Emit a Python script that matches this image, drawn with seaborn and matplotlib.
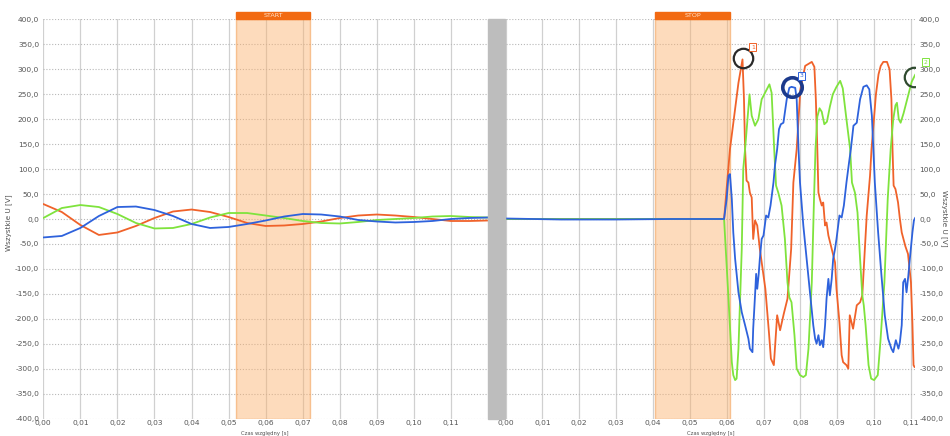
import numpy as np
import pandas as pd
import matplotlib
matplotlib.use("Agg")
import matplotlib.pyplot as plt
import matplotlib.transforms as mtransforms
from matplotlib.patches import Rectangle
from matplotlib.ticker import FuncFormatter, FixedLocator
import seaborn as sns

# ─────────────────────────────────────────────
# DATA
# ─────────────────────────────────────────────
# left panel: damped residual voltage after switch-off (START)
left_t = [0.000, 0.005, 0.010, 0.015, 0.020, 0.025, 0.030, 0.035, 0.040,
          0.045, 0.050, 0.055, 0.060, 0.065, 0.070, 0.075, 0.080, 0.085,
          0.090, 0.095, 0.100, 0.105, 0.110, 0.115, 0.120]
left_orange = [30, 14, -12, -32, -27, -14, 2, 15, 19, 14, 4, -8, -14, -13,
               -10, -5, 2, 7, 9, 7, 4, 0, -4, -4, -3]
left_green = [2, 22, 28, 24, 10, -8, -19, -18, -10, 3, 12, 12, 7, 2, -4,
              -8, -9, -6, -2, 0, 2, 5, 6, 4, 3]
left_blue = [-37, -34, -18, 6, 24, 25, 18, 6, -10, -18, -16, -10, -3, 5,
             10, 9, 5, -2, -5, -7, -6, -4, 0, 2, 3]

# right panel: voltage after restart (STOP)
right_orange = [
    (0.0, 0), (0.0593, 0), (0.0609, 140), (0.0632, 273), (0.0643, 320),
    (0.0647, 240), (0.0650, 140), (0.0654, 77), (0.0659, 73), (0.0663, 53),
    (0.0668, 43), (0.0672, -40), (0.0677, -3), (0.0683, -13), (0.0690, -60),
    (0.0705, -140), (0.0715, -230), (0.0720, -280), (0.0728, -293),
    (0.0737, -193), (0.0745, -223), (0.0755, -190), (0.0765, -160),
    (0.0775, -60), (0.0781, 73), (0.0790, 140), (0.0800, 260), (0.0813, 307),
    (0.0831, 315), (0.0838, 305), (0.0842, 240), (0.0846, 140), (0.0849, 53),
    (0.0853, 40), (0.0858, 27), (0.0862, 33), (0.0867, -13), (0.0871, -7),
    (0.0876, -33), (0.0885, -60), (0.0894, -87), (0.0898, -140),
    (0.0906, -207), (0.0912, -273), (0.0916, -287), (0.0925, -293),
    (0.0930, -300), (0.0934, -193), (0.0943, -220), (0.0953, -173),
    (0.0962, -167), (0.0968, -153), (0.0980, 7), (0.0989, 87), (0.0993, 140),
    (0.1005, 250), (0.1012, 290), (0.1018, 307), (0.1025, 315), (0.1035, 315),
    (0.1042, 300), (0.1047, 240), (0.1050, 140), (0.1053, 67), (0.1058, 60),
    (0.1065, 33), (0.1070, 0), (0.1075, -27), (0.1085, -55), (0.1092, -70),
    (0.1100, -127), (0.1104, -210), (0.1107, -293), (0.1110, -297),
]
right_green = [
    (0.0, 0), (0.0593, 0), (0.0605, -160), (0.0614, -287), (0.0618, -313),
    (0.0623, -323), (0.0627, -320), (0.0632, -260), (0.0641, -60),
    (0.0645, 100), (0.0650, 140), (0.0662, 250), (0.0668, 207), (0.0677, 187),
    (0.0686, 200), (0.0695, 240), (0.0700, 247), (0.0709, 260), (0.0716, 270),
    (0.0722, 253), (0.0729, 140), (0.0734, 67), (0.0740, 53), (0.0749, 27),
    (0.0758, -40), (0.0765, -127), (0.0770, -157), (0.0776, -167),
    (0.0784, -233), (0.0790, -300), (0.0799, -313), (0.0808, -317),
    (0.0815, -313), (0.0822, -260), (0.0831, -127), (0.0837, 40),
    (0.0841, 140), (0.0846, 205), (0.0852, 222), (0.0858, 215), (0.0865, 190),
    (0.0872, 195), (0.0880, 225), (0.0888, 250), (0.0898, 265), (0.0908, 277),
    (0.0915, 262), (0.0925, 200), (0.0935, 140), (0.0940, 73), (0.0948, 53),
    (0.0955, 13), (0.0962, -80), (0.0968, -153), (0.0972, -173),
    (0.0977, -213), (0.0985, -293), (0.0992, -320), (0.1000, -323),
    (0.1010, -313), (0.1017, -247), (0.1028, -127), (0.1037, 40),
    (0.1045, 140), (0.1052, 200), (0.1058, 228), (0.1062, 233), (0.1067, 200),
    (0.1072, 193), (0.1080, 212), (0.1088, 235), (0.1095, 255), (0.1102, 275),
    (0.1108, 284), (0.1112, 290),
]
right_blue = [
    (0.0, 1), (0.015, -1), (0.030, -1), (0.045, 0), (0.0593, 0),
    (0.0600, 40), (0.0605, 87), (0.0609, 90), (0.0614, 40), (0.0618, -27),
    (0.0623, -80), (0.0632, -147), (0.0641, -187), (0.0650, -213),
    (0.0659, -240), (0.0663, -260), (0.0670, -267), (0.0672, -220),
    (0.0677, -153), (0.0680, -110), (0.0683, -140), (0.0687, -110),
    (0.0690, -80), (0.0695, -40), (0.0700, -33), (0.0707, 7), (0.0713, 3),
    (0.0719, 27), (0.0727, 73), (0.0731, 107), (0.0737, 140), (0.0742, 180),
    (0.0747, 190), (0.0754, 193), (0.0763, 240), (0.0770, 263), (0.0776, 265),
    (0.0786, 263), (0.0790, 240), (0.0795, 140), (0.0799, 73), (0.0808, -13),
    (0.0817, -80), (0.0826, -147), (0.0835, -213), (0.0840, -240),
    (0.0844, -250), (0.0849, -233), (0.0853, -253), (0.0858, -243),
    (0.0862, -257), (0.0867, -213), (0.0871, -160), (0.0876, -120),
    (0.0880, -153), (0.0885, -120), (0.0889, -80), (0.0894, -60),
    (0.0898, -40), (0.0906, 7), (0.0912, 3), (0.0918, 27), (0.0925, 73),
    (0.0932, 113), (0.0937, 140), (0.0944, 187), (0.0953, 193), (0.0962, 240),
    (0.0971, 265), (0.0980, 268), (0.0987, 260), (0.0994, 207), (0.0998, 140),
    (0.1002, 73), (0.1011, -27), (0.1020, -113), (0.1029, -193),
    (0.1038, -240), (0.1047, -260), (0.1052, -267), (0.1059, -243),
    (0.1066, -260), (0.1070, -247), (0.1075, -213), (0.1079, -127),
    (0.1084, -120), (0.1088, -147), (0.1093, -113), (0.1097, -80),
    (0.1104, -27), (0.1108, -3), (0.1112, 3),
]

# cursor markers on the right panel
marker_t = [0.0643, 0.0776, 0.1107]
marker_u = [322, 265, 284]
marker_labels = ["1", "3", "2"]

# START / STOP windows
start_window = (0.052, 0.072)
stop_window = (0.0406, 0.0610)

x_ticks = [0.00, 0.01, 0.02, 0.03, 0.04, 0.05, 0.06, 0.07, 0.08, 0.09, 0.10, 0.11]
y_ticks = [-400, -350, -300, -250, -200, -150, -100, -50, 0,
           50, 100, 150, 200, 250, 300, 350, 400]

# ─────────────────────────────────────────────
# STYLE
# ─────────────────────────────────────────────
sns.set_style("white")
plt.rcParams['font.family'] = ['DejaVu Sans']

C_ORANGE = '#f0622a'
C_GREEN = '#7fe33d'
C_BLUE = '#2e62dc'
C_SPAN = '#fbb06c'
C_HEAD = '#f26a12'
FS = 5.4

fig = plt.figure(figsize=(9.5, 4.36), dpi=100)
W, H = 950, 436
BOT, HGT = 17.5, 399.0       # axes bottom (px from bottom) and height
ax_l = fig.add_axes([43.3 / W, BOT / H, 444.7 / W, HGT / H])
ax_r = fig.add_axes([505.5 / W, BOT / H, 409.5 / W, HGT / H])


def style_axis(ax, xmax):
    ax.set_xlim(0, xmax)
    ax.set_ylim(-400, 400)
    ax.xaxis.set_major_locator(FixedLocator(x_ticks))
    ax.yaxis.set_major_locator(FixedLocator(y_ticks))
    ax.xaxis.set_major_formatter(FuncFormatter(lambda v, p: f"{v:.2f}".replace('.', ',')))
    ax.yaxis.set_major_formatter(FuncFormatter(lambda v, p: f"{v:.1f}".replace('.', ',')))
    ax.grid(axis='x', color='#d0d0d0', lw=0.9, ls='-')
    ax.grid(axis='y', color='#b8b8b8', lw=0.8, ls=(0, (1, 1.6)))
    ax.set_axisbelow(True)
    for s in ax.spines.values():
        s.set_visible(False)
    ax.tick_params(length=0, labelsize=FS, colors='#555555', pad=3)
    ax.tick_params(axis='x', pad=1.2)
    ax.set_xlabel("")
    ax.set_ylabel("")


def window(ax, lo, hi, title):
    ax.axvspan(lo, hi, facecolor=C_SPAN, edgecolor='#f08a30', lw=1.0, alpha=0.45, zorder=1)
    trans = mtransforms.blended_transform_factory(ax.transData, ax.transAxes)
    ax.add_patch(Rectangle((lo, 1.0), hi - lo, 0.019, transform=trans,
                           color=C_HEAD, clip_on=False, zorder=5))
    ax.text((lo + hi) / 2, 1.0095, title, transform=trans, ha='center', va='center',
            fontsize=4.6, color='#ffe2cc', zorder=6)


# ─────────────────────────────────────────────
# LEFT PANEL
# ─────────────────────────────────────────────
style_axis(ax_l, 0.12)
window(ax_l, *start_window, "START")
df_left = pd.DataFrame({'t': left_t, 'orange': left_orange,
                        'green': left_green, 'blue': left_blue})
for col, c in [('orange', C_ORANGE), ('green', C_GREEN), ('blue', C_BLUE)]:
    sns.lineplot(data=df_left, x='t', y=col, ax=ax_l, color=c, lw=1.3,
                 estimator=None, sort=False, zorder=3)
ax_l.set_xlabel("")
ax_l.set_ylabel("")

# ─────────────────────────────────────────────
# RIGHT PANEL
# ─────────────────────────────────────────────
style_axis(ax_r, 0.1111)
ax_r.yaxis.tick_right()
window(ax_r, *stop_window, "STOP")
for series, c in [(right_orange, C_ORANGE), (right_green, C_GREEN), (right_blue, C_BLUE)]:
    df = pd.DataFrame(series, columns=['t', 'u'])
    sns.lineplot(data=df, x='t', y='u', ax=ax_r, color=c, lw=1.3,
                 estimator=None, sort=False, zorder=3)
ax_r.set_xlabel("")
ax_r.set_ylabel("")

# cursor circles + numbered boxes
m_style = [('#2a2a2a', 1.6, C_ORANGE, (7.5, 8)),
           ('#1c3a8c', 2.6, C_BLUE, (7.5, 8)),
           ('#2f4a2f', 1.6, C_GREEN, (8.5, 11))]
for t, u, lab, (ec, mw, bc, off) in zip(marker_t, marker_u, marker_labels, m_style):
    ax_r.plot([t], [u], marker='o', ms=14, mfc='none', mec=ec, mew=mw, zorder=7)
    ax_r.annotate(lab, xy=(t, u), xytext=off, textcoords='offset points',
                  fontsize=4.4, color=bc, ha='center', va='center', zorder=8,
                  annotation_clip=False,
                  bbox=dict(boxstyle='square,pad=0.25', fc='white', ec=bc, lw=0.7))

# gray separator between panels
fig.patches.append(Rectangle((488 / W, BOT / H), 17.5 / W, HGT / H,
                             transform=fig.transFigure, color='#bdbdbd', zorder=2))

# axis titles
fig.text(9 / W, 0.49, "Wszystkie U [V]", rotation=90, ha='center', va='center',
         fontsize=5.2, color='#505050')
fig.text(944 / W, 0.50, "Wszystkie U [V]", rotation=270, ha='center', va='center',
         fontsize=5.2, color='#505050')
fig.text((43.3 + 222) / W, 0.2 / H, "Czas względny [s]", ha='center', va='bottom',
         fontsize=3.8, color='#505050')
fig.text((505.5 + 205) / W, 0.2 / H, "Czas względny [s]", ha='center', va='bottom',
         fontsize=3.8, color='#505050')

fig.savefig("out.png", dpi=100)
